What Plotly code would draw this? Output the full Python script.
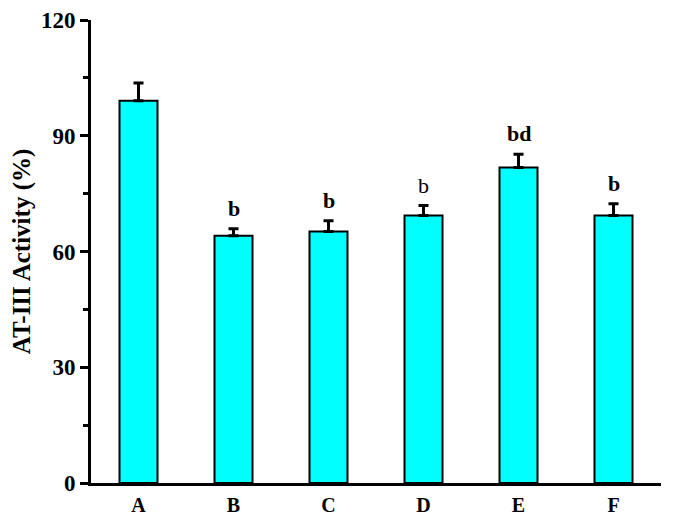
import plotly.graph_objects as go

groups = ["A", "B", "C", "D", "E", "F"]
activity = [99.1, 64.1, 65.2, 69.3, 81.8, 69.3]
sd = [4.6, 1.8, 2.8, 2.6, 3.4, 3.1]
marks = ["", "b", "b", "b", "bd", "b"]
mark_bold = [True, True, True, False, True, True]

serif = "Liberation Serif, Times New Roman, serif"

fig = go.Figure(go.Bar(
    x=groups, y=activity, width=0.4,
    marker=dict(color="#00FFFF", line=dict(color="black", width=2)),
    error_y=dict(type="data", array=sd, arrayminus=[0] * len(sd), symmetric=False,
                 color="black", thickness=3, width=5),
))

for g, v, e, m, b in zip(groups, activity, sd, marks, mark_bold):
    if not m:
        continue
    fig.add_annotation(x=g, y=v + e, text=m if not b else "<b>" + m + "</b>",
                       showarrow=False, yanchor="bottom", yshift=6,
                       font=dict(family=serif, size=22, color="black"))

# page body adds an 8px offset, so the figure is sized to fit inside it
fig.update_layout(
    width=657, height=511, plot_bgcolor="white", paper_bgcolor="white",
    margin=dict(l=83, r=4, t=12, b=36, autoexpand=False), showlegend=False,
    font=dict(family=serif, color="black"),
)
fig.update_xaxes(range=[-0.5, 5.5], showline=True, linecolor="black", linewidth=3,
                 ticks="", ticklabelstandoff=2, automargin=False,
                 tickfont=dict(family=serif, size=20, weight="bold"))
fig.update_yaxes(range=[0, 120], dtick=30, showline=True, linecolor="black", linewidth=3,
                 ticks="outside", ticklen=8, tickwidth=3, tickcolor="black",
                 minor=dict(dtick=15, ticks="outside", ticklen=5, tickwidth=3, tickcolor="black"),
                 showgrid=False, zeroline=False, automargin=False,
                 tickfont=dict(family=serif, size=23, weight="bold"),
                 title=dict(text="<b>AT-III Activity (%)</b>", font=dict(family=serif, size=25), standoff=11))

fig.write_html("out.html")
